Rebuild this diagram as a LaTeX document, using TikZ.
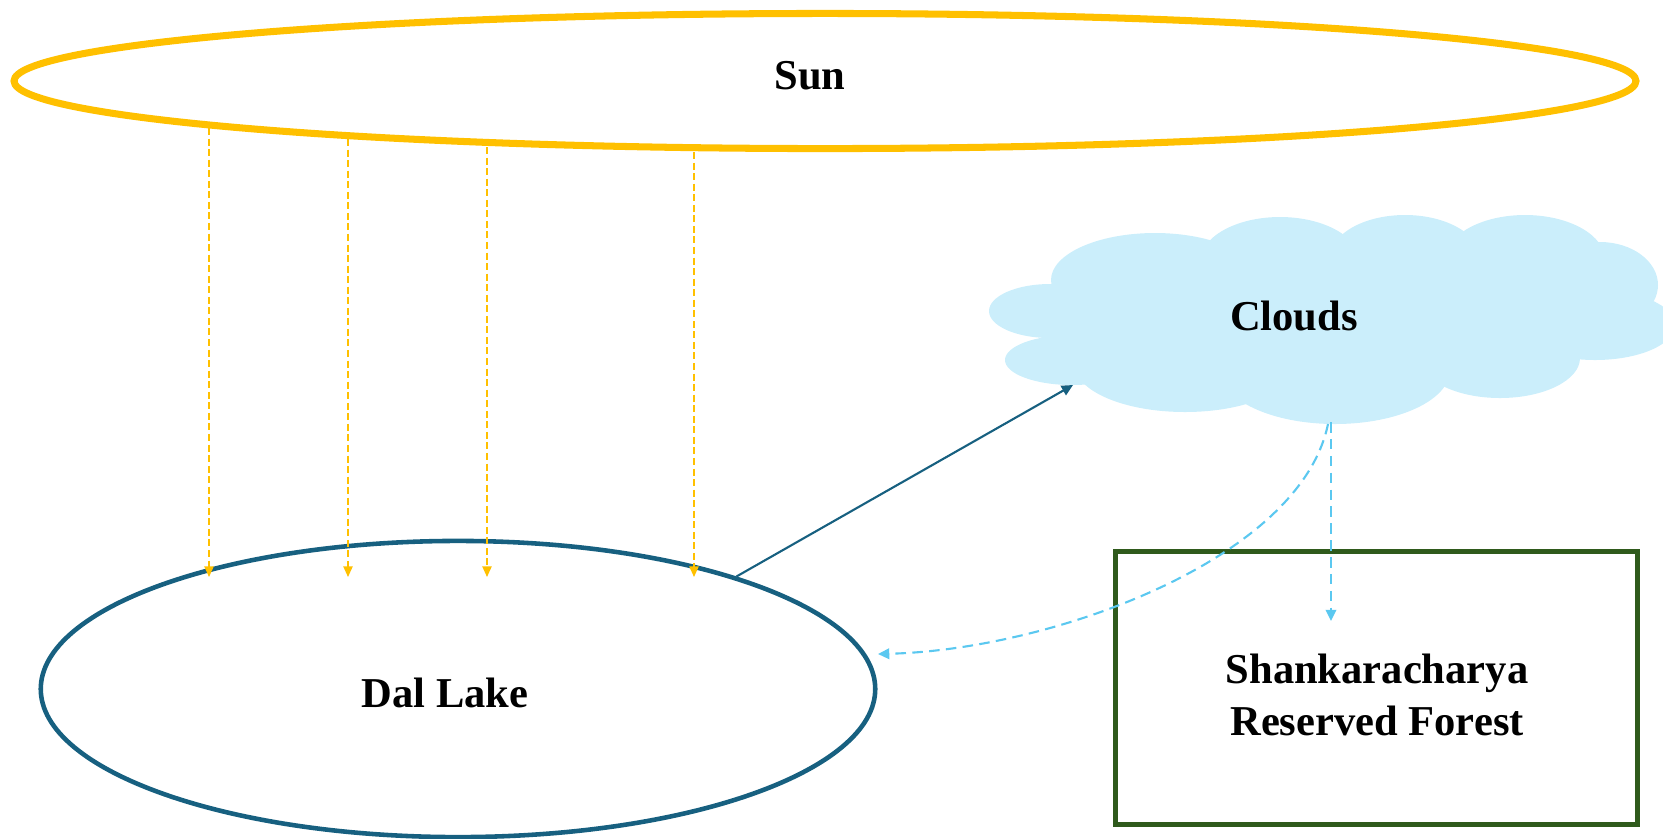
\documentclass[tikz,border=0pt]{standalone}
\usepackage{fontspec}
\setmainfont{Liberation Serif}
\usetikzlibrary{shapes.geometric,arrows.meta}
\definecolor{sunyellow}{RGB}{255,192,0}
\definecolor{lakeblue}{RGB}{23,96,128}
\definecolor{cloudfill}{RGB}{203,238,251}
\definecolor{cloudline}{RGB}{91,200,240}
\definecolor{forestgreen}{RGB}{47,90,28}
\tikzset{
  lbl/.style={font=\bfseries\fontsize{12.1}{14.9}\selectfont, align=center, inner sep=0pt},
  sunray/.style={sunyellow, line width=0.45pt, dash pattern=on 2pt off 1pt, -{Triangle[length=3pt,width=2.6pt]}},
  evap/.style={lakeblue, line width=0.6pt, -{Triangle[length=3.2pt,width=3pt]}},
  rain/.style={cloudline, line width=0.6pt, dash pattern=on 3pt off 1.8pt, -{Triangle[length=3.2pt,width=3pt]}},
}
\begin{document}
\begin{tikzpicture}[x=0.01cm,y=-0.01cm]
\useasboundingbox (0,0) rectangle (1663,838);
% cloud
\begin{scope}[cloudfill]
\fill (1050,311) ellipse [x radius=61,y radius=27];
\fill (1072,360) ellipse [x radius=67,y radius=25];
\fill (1155,280) ellipse [x radius=104,y radius=47];
\fill (1280,262) ellipse [x radius=80,y radius=45];
\fill (1405,258) ellipse [x radius=75,y radius=43];
\fill (1525,260) ellipse [x radius=80,y radius=45];
\fill (1600,285) ellipse [x radius=58,y radius=43];
\fill (1595,325) ellipse [x radius=80,y radius=35];
\fill (1500,358) ellipse [x radius=80,y radius=40];
\fill (1335,370) ellipse [x radius=115,y radius=54];
\fill (1185,365) ellipse [x radius=110,y radius=47];
\fill (1320,315) ellipse [x radius=260,y radius=80];
\end{scope}
\node[lbl] (clouds) at (1294,316) {Clouds};
% sun
\node[ellipse, draw=sunyellow, line width=2pt, minimum width=16.21cm, minimum height=1.35cm, inner sep=0pt] (sun) at (825,81) {};
\node[lbl] (sunlbl) at (810,76) {Sun};
% dal lake
\node[ellipse, draw=lakeblue, line width=1.3pt, minimum width=8.34cm, minimum height=2.96cm, inner sep=0pt] (dal) at (458,689) {};
\node[lbl] (dallbl) at (445,693) {Dal Lake};
% forest
\node[draw=forestgreen, line width=1.4pt, minimum width=5.21cm, minimum height=2.72cm, inner sep=0pt] (forest) at (1376.5,688) {};
\node[lbl] (forestlbl) at (1377,695) {Shankaracharya\\Reserved Forest};
% coordinates
\coordinate (raybase) at (0,577);
\coordinate (r1) at (209,128);
\coordinate (r2) at (348,139);
\coordinate (r3) at (487,147);
\coordinate (r4) at (694,152);
\coordinate (cloudin) at (1073,385);
\coordinate (cloudbot) at (1331,422);
\coordinate (cloudbot2) at (1328,424);
\coordinate (forin) at (1331,621);
\coordinate (dalin) at (878,654);
% connectors
\foreach \r in {r1,r2,r3,r4}
  \draw[sunray] (\r) -- (\r |- raybase);
\draw[evap] (dal.22.3) -- (cloudin);
\draw[rain] (cloudbot) -- (forin);
\draw[rain] (cloudbot2) .. controls (1300,560) and (1050,650) .. (dalin);
\end{tikzpicture}
\end{document}
